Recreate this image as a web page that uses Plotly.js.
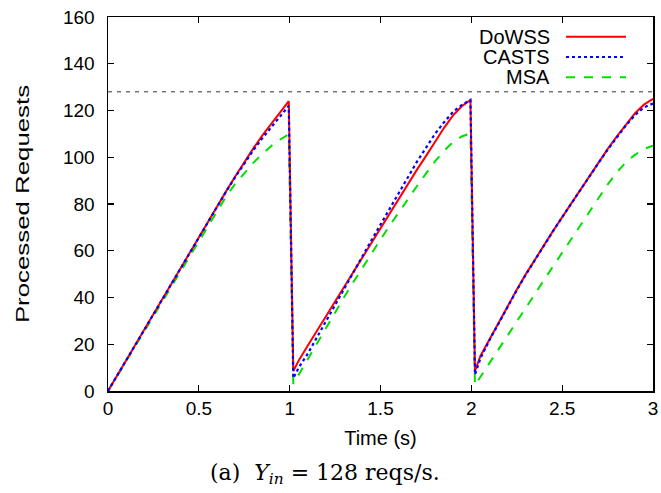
<!DOCTYPE html>
<html><head><meta charset="utf-8">
<script src="https://cdn.plot.ly/plotly-3.0.1.min.js"></script>
<style>html,body{margin:0;padding:0;background:#fff}#c{width:661px;height:493px}</style>
</head><body><div id="c"></div>
<script>
const time = [0,0.05,0.1,0.15,0.2,0.25,0.3,0.35,0.4,0.45,0.5,0.55,0.6,0.65,0.7,0.75,0.8,0.85,0.9,0.95,0.995,
  1.02,1.05,1.1,1.15,1.2,1.25,1.3,1.35,1.4,1.45,1.5,1.55,1.6,1.65,1.7,1.75,1.8,1.85,1.9,1.95,1.995,
  2.02,2.05,2.1,2.15,2.2,2.25,2.3,2.35,2.4,2.45,2.5,2.55,2.6,2.65,2.7,2.75,2.8,2.85,2.9,2.95,3.0];
const dowss = [0,6.6,13.2,19.8,26.4,33,39.6,46.2,52.8,59.3,65.8,72.3,78.8,85.4,91.8,98,103.8,109.4,114.6,119.4,124,
  8.5,13,19.5,26,32,38.3,44.6,51,57.3,63.6,70,76.2,82.5,88.6,94.6,100.5,106.5,112.6,118,122,124.5,
  8.5,15,22.2,29.3,36.3,43.3,50,56.3,62.5,68.5,74.4,80.3,86.2,92,97.8,103.5,108.8,114,118.7,122.5,125];
const casts = [0,6.6,13.2,19.8,26.4,33,39.6,46.2,52.8,59.3,65.8,72.3,78.8,85.3,91.5,97.4,103,108.2,113,117.6,122,
  5.5,10,16,23,30,37,44,51,57.8,64.5,71.2,78,84.8,91.5,98,104,110,115,119.5,122.5,124.5,
  7,14,21.8,29,36.1,43.1,49.8,56.2,62.4,68.4,74.3,80.2,86.1,91.9,97.6,103.2,108.4,113.5,118,121.3,123];
const msa = [0,6.4,12.9,19.3,25.8,32.2,38.6,45,51.5,58,64.5,71,77.3,83.2,88.6,93.3,97.6,101.5,104.9,107.7,109.8,
  3,7,13.8,20.6,27.3,33.8,40.2,46.5,52.7,58.8,64.8,70.7,76.5,82,87.6,93,98.2,102.8,106.5,109,110.2,
  2.5,6,11.8,17.6,23.5,29.5,35.5,41.5,47.5,53.3,59.2,65,71,77,82.8,88.3,93.5,97.8,101,103.5,105];
const capacity = 128;
const xRange = [0,3];
const yRange = [0,160];
const xTicks = [0,0.5,1,1.5,2,2.5,3];
const xTickText = ['0','0.5','1','1.5','2','2.5','3'];
const yTicks = [0,20,40,60,80,100,120,140,160];
const seriesNames = ['DoWSS','CASTS','MSA'];

const colors = ['#ff0000','#0000ff','#00e000'];
const dashes = ['solid','dot','dash'];
const traces = [
  {x:xRange, y:[capacity,capacity], mode:'lines', line:{color:'#333',width:1,dash:'4px,5px'}, hoverinfo:'skip'},
  {x:time, y:msa, mode:'lines', name:seriesNames[2], line:{color:colors[2],width:2,dash:'dash'}},
  {x:time, y:dowss, mode:'lines', name:seriesNames[0], line:{color:colors[0],width:2}},
  {x:time, y:casts, mode:'lines', name:seriesNames[1], line:{color:colors[1],width:2.2,dash:'dot'}}
];
const fam = '"Liberation Sans", Arial, Helvetica, sans-serif';
const font = {family:fam, size:19, color:'#000'};
const annotations = [];
const shapes = [];
seriesNames.forEach((n,i)=>{
  const ypx = 36.7 + i*20.3;
  const yp = 1 - (ypx - 17)/374;
  annotations.push({xref:'paper',yref:'paper',x:(552-108)/545,y:yp,xanchor:'right',yanchor:'middle',
    text:n,showarrow:false,font:{family:fam,size:20,color:'#000'}});
  shapes.push({type:'line',xref:'paper',yref:'paper',x0:(566-108)/545,x1:(626-108)/545,y0:yp,y1:yp,
    line:{color:colors[i],width:2,dash:dashes[i]}});
});
annotations.push({xref:'paper',yref:'paper',x:(325-108)/545,y:-(474-391)/374,xanchor:'center',yanchor:'middle',
  text:'(a)  <i>Y<sub>in</sub></i> = 128 reqs/s.',showarrow:false, height:34, valign:'middle',
  font:{family:'"DejaVu Serif", "Liberation Serif", serif',size:22,color:'#000'}});
const axisCommon = {showgrid:false, zeroline:false, showline:true, linecolor:'#000', linewidth:1.5,
  mirror:'allticks', ticks:'inside', ticklen:6, tickwidth:1.2, tickcolor:'#000', tickfont:font};
const layout = {
  width:661, height:493, margin:{l:108,r:8,t:17,b:102}, paper_bgcolor:'#fff', plot_bgcolor:'#fff',
  showlegend:false, font:font,
  xaxis:Object.assign({}, axisCommon, {range:xRange, tickvals:xTicks, ticktext:xTickText,
    title:{text:'Time (s)', font:{family:fam,size:20}, standoff:12}}),
  yaxis:Object.assign({}, axisCommon, {range:yRange, tickvals:yTicks, ticklabelstandoff:8,
    title:{text:'Processed Requests', font:{family:fam,size:19}, standoff:28}}),
  annotations:annotations, shapes:shapes
};
Plotly.newPlot('c', traces, layout, {staticPlot:true, displayModeBar:false}).then(gd=>{
  const t = gd.querySelector('.ytitle');
  if (t) {
    const x = +t.getAttribute('x'), y = +t.getAttribute('y');
    t.setAttribute('transform', `rotate(-90,${x},${y}) translate(${x},${y}) scale(1.36,1) translate(${-x},${-y})`);
  }
});
</script></body></html>
